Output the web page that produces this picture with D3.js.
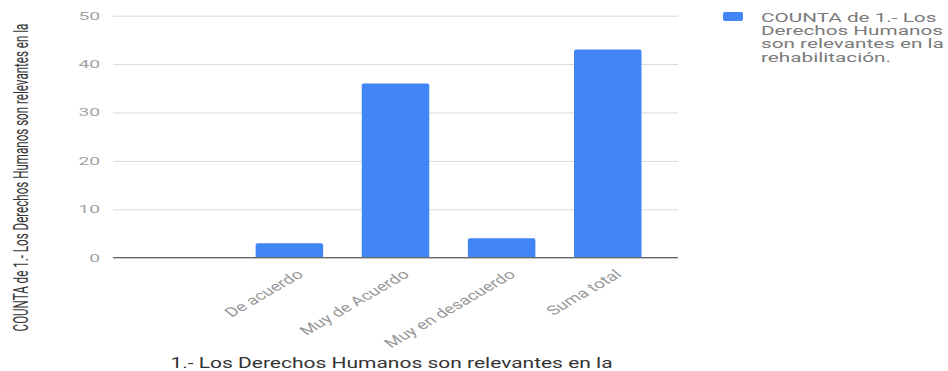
<!DOCTYPE html>
<html>
<head>
<meta charset="utf-8">
<script src="https://cdn.jsdelivr.net/npm/d3@7"></script>
<style>
  html, body { margin: 0; padding: 0; background: #fff; }
  svg { display: block; font-family: Roboto, Arial, sans-serif; }
</style>
</head>
<body>
<svg id="chart" width="948" height="371"></svg>
<script>
// Response categories (the first row of the pivot has an empty label)
const categories = ["", "De acuerdo", "Muy de Acuerdo", "Muy en desacuerdo", "Suma total"];
// COUNTA per category
const counts = [0, 3, 36, 4, 43];
// Value axis ticks
const yTicks = [0, 10, 20, 30, 40, 50];
// Legend entry, wrapped over four lines
const legendLines = ["COUNTA de 1.- Los", "Derechos Humanos", "son relevantes en la", "rehabilitación."];
const xTitle = "1.- Los Derechos Humanos son relevantes en la";
const yTitle = "COUNTA de 1.- Los Derechos Humanos son relevantes en la";

const barColor = "#4285f4";
const SX = 1.45; // horizontal stretch of the glyphs

const svg = d3.select("#chart");
const plot = { left: 113, right: 678, top: 15.7, bottom: 257.7 };

const x = d3.scaleBand()
  .domain(categories)
  .range([plot.left, plot.right])
  .paddingInner(0.364)
  .paddingOuter(0.344);

const y = d3.scaleLinear()
  .domain([0, 50])
  .range([plot.bottom, plot.top]);

// Gridlines
const grid = svg.append("g")
  .attr("transform", `translate(${plot.left},0)`)
  .call(d3.axisLeft(y).tickValues(yTicks).tickSize(-(plot.right - plot.left)).tickFormat(""));
grid.select(".domain").remove();
grid.selectAll(".tick line").attr("stroke", "#d9d9d9").attr("stroke-width", 1);

// Y tick labels
svg.append("g").selectAll("text")
  .data(yTicks)
  .join("text")
  .attr("transform", d => `translate(100,${y(d)}) scale(1.75,1)`)
  .attr("text-anchor", "end")
  .attr("dy", "0.36em")
  .attr("font-size", 11)
  .attr("fill", "#a3a3a3")
  .text(d => d);

// Bars with slightly rounded top corners
const r = 2;
svg.append("g").selectAll("path")
  .data(categories.map((c, i) => ({ c, v: counts[i] })).filter(d => d.v > 0))
  .join("path")
  .attr("fill", barColor)
  .attr("d", d => {
    const x0 = x(d.c), w = x.bandwidth(), y0 = y(0), y1 = y(d.v);
    return `M${x0},${y0}V${y1 + r}Q${x0},${y1} ${x0 + r},${y1}H${x0 + w - r}Q${x0 + w},${y1} ${x0 + w},${y1 + r}V${y0}Z`;
  });

// Baseline
svg.append("line")
  .attr("x1", plot.left).attr("x2", plot.right)
  .attr("y1", y(0)).attr("y2", y(0))
  .attr("stroke", "#666").attr("stroke-width", 1.2);

// Category labels, rotated
svg.append("g").selectAll("text")
  .data(categories.filter(c => c !== ""))
  .join("text")
  .attr("transform", c => `translate(${x(c) + x.bandwidth() / 2 + 15},${y(0) + 18}) scale(${SX},1) rotate(-40)`)
  .attr("text-anchor", "end")
  .attr("font-size", 13)
  .attr("fill", "#999")
  .text(c => c);

// X axis title
svg.append("text")
  .attr("transform", `translate(${(plot.left + plot.right) / 2 - 4},368) scale(1.5,1)`)
  .attr("text-anchor", "middle")
  .attr("font-size", 14)
  .attr("fill", "#333")
  .text(xTitle);

// Y axis title
svg.append("text")
  .attr("transform", `translate(28,177.5) scale(1.75,1) rotate(-90)`)
  .attr("text-anchor", "middle")
  .attr("font-size", 11.6)
  .attr("fill", "#333")
  .text(yTitle);

// Legend
const legend = svg.append("g");
legend.append("rect")
  .attr("x", 723).attr("y", 12).attr("width", 20).attr("height", 9).attr("rx", 2)
  .attr("fill", barColor);
legend.append("text")
  .attr("transform", "translate(761,21.5) scale(1.62,1)")
  .attr("font-size", 12.8)
  .attr("fill", "#7a7a7a")
  .selectAll("tspan")
  .data(legendLines)
  .join("tspan")
  .attr("x", 0)
  .attr("y", (d, i) => i * 13.4)
  .text(d => d);
</script>
</body>
</html>
